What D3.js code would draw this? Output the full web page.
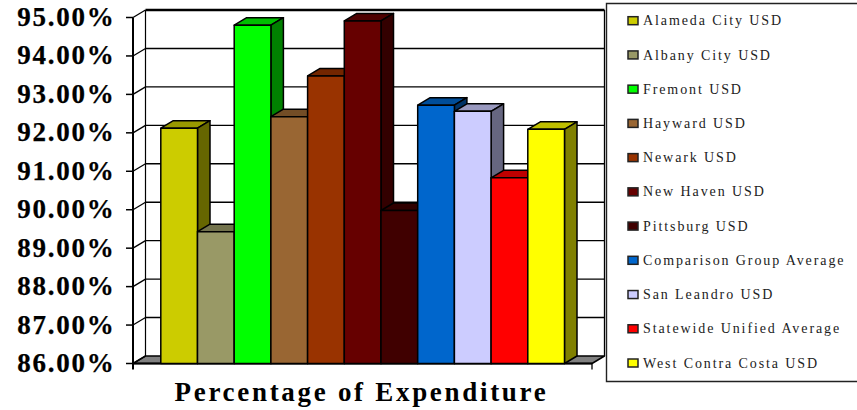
<!DOCTYPE html>
<html><head><meta charset="utf-8">
<script src="https://cdn.jsdelivr.net/npm/d3@7"></script>
<style>
html,body{margin:0;padding:0;background:#fff}
svg{display:block}
text{font-family:"Liberation Serif",serif;fill:#000}
.tick-label{font-size:27px;font-weight:bold;letter-spacing:1.75px;stroke:#000;stroke-width:.25px}
.title{font-size:27px;font-weight:bold;letter-spacing:2.7px}
.legend-label{font-size:14px;letter-spacing:1.9px;fill:#222}
</style></head><body>
<svg id="c" width="857" height="410"></svg>
<script>
const categories=["Alameda City USD","Albany City USD","Fremont USD","Hayward USD","Newark USD","New Haven USD","Pittsburg USD","Comparison Group Average","San Leandro USD","Statewide Unified Average","West Contra Costa USD"];
const values=[92.12,89.43,94.80,92.42,93.48,94.91,89.98,92.72,92.56,90.83,92.09];
const colors=["#CCCC00","#999966","#00FF00","#996633","#993300","#660000","#400000","#0066CC","#CCCCFF","#FF0000","#FFFF00"];
const tickValues=[86,87,88,89,90,91,92,93,94,95];
const titleText="Percentage of Expenditure";

const svg=d3.select("#c");
const y=d3.scaleLinear().domain([86,95]).range([363.5,17.5]);
const x=d3.scaleBand().domain(categories).range([160.8,564.5]);
const dx=12.5,dy=-7.5,xL=133,xR=592;
const shade=(c,k)=>{const r=d3.rgb(c);return d3.rgb(r.r*k,r.g*k,r.b*k).formatHex()};
const poly=(pts,fill,sw)=>svg.append("polygon").attr("points",pts.map(p=>p.join(",")).join(" "))
  .attr("fill",fill).attr("stroke","#000").attr("stroke-width",sw).attr("stroke-linejoin","round");
const line=(a,b,c,d,w)=>svg.append("line").attr("x1",a).attr("y1",b).attr("x2",c).attr("y2",d).attr("stroke","#000").attr("stroke-width",w);

// floor
poly([[xL,y(86)],[xR,y(86)],[xR+dx,y(86)+dy],[xL+dx,y(86)+dy]],"#808080",1.5);

// gridlines, wall diagonals, ticks
tickValues.forEach(t=>{
  const yy=y(t);
  if(t!==86) line(xL+dx,yy+dy,xR+dx,yy+dy,t===95?2.5:1.4);
  line(xL,yy,xL+dx,yy+dy,1.3);
  line(xL-7,yy,xL,yy,1.5);
});
line(xL+dx,y(95)+dy,xL+dx,y(86)+dy,1.2);
line(xR+dx,y(95)+dy,xR+dx,y(86)+dy,1.3);
line(xL,y(95),xL,y(86)+6,2);
line(xR,y(86),xR,y(86)+6,1.3);
line(xL,y(86),xR,y(86),1.8);

// bars
categories.forEach((c,i)=>{
  const x0=x(c),x1=x0+x.bandwidth(),t=y(values[i]),b=y(86),col=colors[i];
  poly([[x0,t],[x1,t],[x1+dx,t+dy],[x0+dx,t+dy]],shade(col,.75),1.5);
  poly([[x1,t],[x1+dx,t+dy],[x1+dx,b+dy],[x1,b]],shade(col,.5),1.5);
  poly([[x0,t],[x1,t],[x1,b],[x0,b]],col,1.5);
});

// y labels
tickValues.forEach(t=>svg.append("text").attr("class","tick-label").attr("x",115.5).attr("y",y(t)+8.5)
  .attr("text-anchor","end").text(d3.format(".2f")(t)+"%"));

// title
svg.append("text").attr("class","title").attr("x",361.5).attr("y",400.5).attr("text-anchor","middle").text(titleText);

// legend
svg.append("path").attr("d","M857,3.5H606.5V381.5H857").attr("fill","#fff").attr("stroke","#222").attr("stroke-width",1.4);
const ly=d3.scaleLinear().domain([0,10]).range([20.7,363]);
categories.forEach((c,i)=>{
  svg.append("rect").attr("x",628).attr("y",ly(i)-4).attr("width",10).attr("height",8)
    .attr("fill",colors[i]).attr("stroke","#222").attr("stroke-width",1.5);
  svg.append("text").attr("class","legend-label").attr("x",643).attr("y",ly(i)+4.6).text(c);
});
</script></body></html>
